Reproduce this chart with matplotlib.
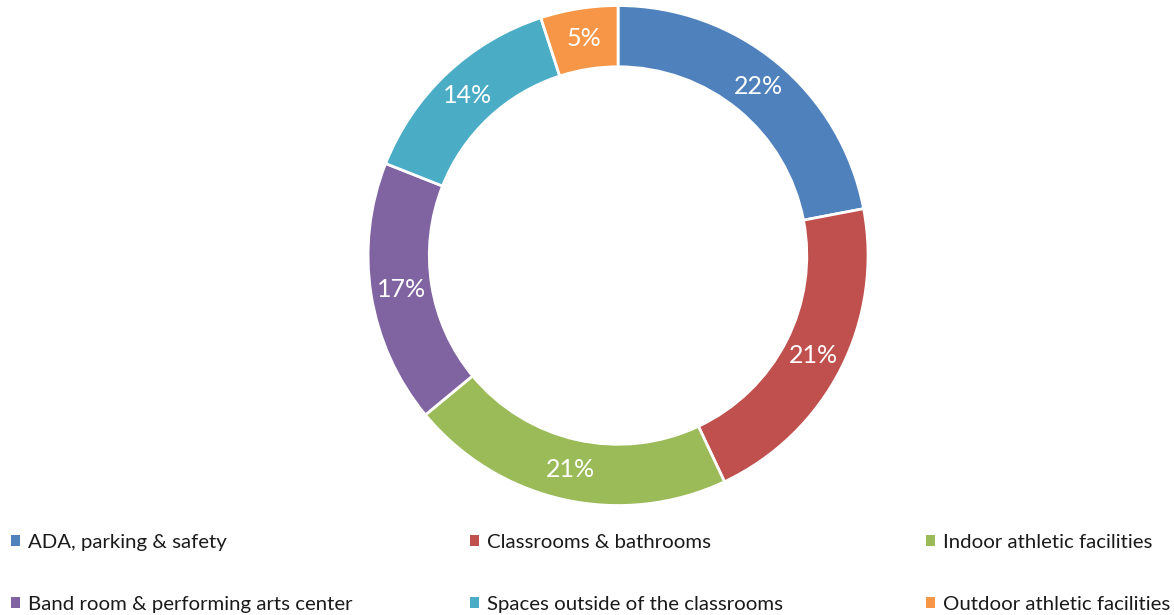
import matplotlib
matplotlib.use("Agg")
import matplotlib.pyplot as plt
from matplotlib.patches import Patch

plt.rcParams['font.family'] = ['Lato', 'DejaVu Sans']

# survey shares, clockwise from 12 o'clock
categories = [
    "ADA, parking & safety",
    "Classrooms & bathrooms",
    "Indoor athletic facilities",
    "Band room & performing arts center",
    "Spaces outside of the classrooms",
    "Outdoor athletic facilities",
]
shares = [22, 21, 21, 17, 14, 5]
colors = ["#4F81BD", "#C0504D", "#9BBB59", "#8064A2", "#4BACC6", "#F79646"]

fig = plt.figure(figsize=(11.74, 6.15), dpi=100)
ax = fig.add_axes([0.3135, 0.178, 0.4259, 0.813])

wedges, texts, autotexts = ax.pie(
    shares,
    colors=colors,
    startangle=90,
    counterclock=False,
    radius=1.0,
    autopct="%d%%",
    pctdistance=0.878,
    wedgeprops=dict(width=0.245, edgecolor="white", linewidth=2),
    textprops=dict(color="white", fontsize=18),
)
ax.set_xlim(-1, 1)
ax.set_ylim(-1, 1)
ax.set_aspect("equal")
ax.axis("off")

# legend laid out as three columns of two rows
col_x = [11 / 1174, 470 / 1174, 926 / 1174]
for c in range(3):
    idx = [c, c + 3]
    handles = [Patch(facecolor=colors[i], edgecolor="none") for i in idx]
    labels = [categories[i] for i in idx]
    fig.legend(
        handles, labels,
        loc="upper left",
        bbox_to_anchor=(col_x[c], 0.132),
        frameon=False,
        fontsize=14.7,
        handlelength=0.45,
        handleheight=0.45,
        handletextpad=0.4,
        labelspacing=2.2,
        borderpad=0,
        borderaxespad=0,
        labelcolor="#1a1a1a",
    )

fig.savefig("out.png", dpi=100, facecolor="white")
